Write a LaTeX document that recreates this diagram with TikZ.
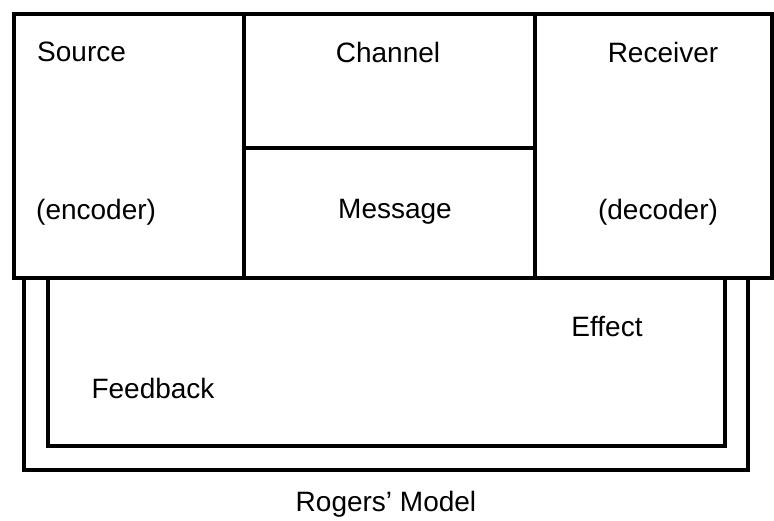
\documentclass[tikz,border=0pt]{standalone}
\usepackage{fontspec}
\setmainfont{Liberation Sans}
\begin{document}
\begin{tikzpicture}[x=1pt,y=-1pt,
  frame/.style={line width=4.5pt,line cap=rect},
  lbl/.style={font=\fontsize{28}{32}\selectfont,inner sep=0pt}]
\useasboundingbox (0,0) rectangle (774,520);
% top block
\draw[frame] (14,14) rectangle (772,278);
\draw[frame] (244,14) -- (244,278);
\draw[frame] (535,14) -- (535,278);
\draw[frame] (244,148) -- (535,148);
% feedback loops
\draw[frame] (48,280) -- (48,446) -- (725,446) -- (725,280);
\draw[frame] (24,280) -- (24,470) -- (748,470) -- (748,280);
% labels
\node[lbl,anchor=west] (src) at (37,52) {Source};
\node[lbl,anchor=west] (enc) at (36,212) {(encoder)};
\node[lbl] (chan) at (388,52) {Channel};
\node[lbl] (msg) at (395,212) {Message};
\node[lbl] (rec) at (663,52) {Receiver};
\node[lbl] (dec) at (658,212) {(decoder)};
\node[lbl] (eff) at (607,326) {Effect};
\node[lbl] (fb) at (153,388) {Feedback};
\node[lbl] (title) at (386,504) {Rogers' Model};
\end{tikzpicture}
\end{document}
